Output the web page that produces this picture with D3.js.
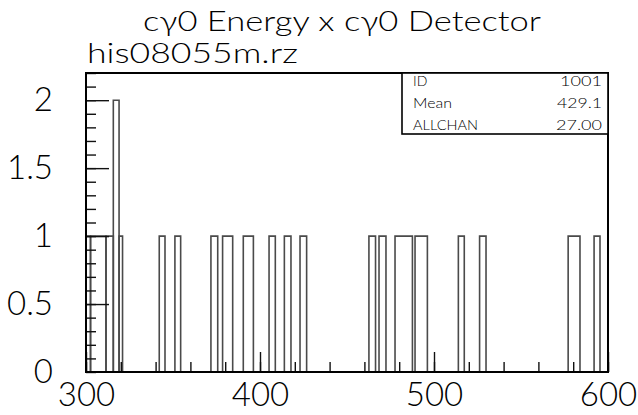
<!DOCTYPE html>
<html>
<head>
<meta charset="utf-8">
<script src="https://cdn.jsdelivr.net/npm/d3@7"></script>
<style>
  html, body { margin: 0; padding: 0; background: #fff; }
  svg { display: block; }
  text { font-family: "Lato", "Liberation Sans", Arial, sans-serif; font-weight: 300; fill: #000; }
</style>
</head>
<body>
<script>
// ---- data ----
const binLow  = [297, 302.6, 311.5, 315.7, 319.0, 342.1, 351.1, 371.8, 378.5, 390.4, 405.2, 414.0, 423.0, 462.6, 468.4, 477.6, 489.1, 514.0, 526.2, 577.1, 592.0];
const binHigh = [302.6, 311.5, 315.7, 319.0, 321.0, 345.4, 354.4, 375.7, 384.3, 396.2, 408.8, 417.8, 426.8, 466.4, 472.4, 487.6, 496.2, 517.4, 529.9, 583.9, 595.4];
const counts  = [1, 1, 1, 2, 1, 1, 1, 1, 1, 1, 1, 1, 1, 1, 1, 1, 1, 1, 1, 1, 1];

const xMajorTicks = [300, 400, 500, 600];
const xMinorTicks = d3.range(300, 601, 20);
const yMajorTicks = [0, 0.5, 1, 1.5, 2];
const yMinorTicks = d3.range(0, 2.21, 0.1);

const titleText = "c\u03B30 Energy x c\u03B30 Detector";
const fileText = "his08055m.rz";
const statLabels = ["ID", "Mean", "ALLCHAN"];
const statValues = ["1001", "429.1", "27.00"];

// ---- layout ----
const W = 638, H = 415;
const L = 86, R = 608, T = 73, B = 372;

const svg = d3.select("body").append("svg").attr("width", W).attr("height", H);

const x = d3.scaleLinear().domain([300, 600]).range([L, R]);
const y = d3.scaleLinear().domain([0, 2.2]).range([B, T]);

svg.append("clipPath").attr("id", "plotclip")
  .append("rect").attr("x", L).attr("y", T).attr("width", R - L).attr("height", B - T);

// histogram bins drawn as open boxes
const bins = counts.map((c, i) => ({ lo: binLow[i], hi: binHigh[i], c }));
svg.append("g").attr("clip-path", "url(#plotclip)")
  .selectAll("path").data(bins).join("path")
  .attr("d", d => {
    const p = d3.path();
    p.moveTo(x(d.lo), y(0));
    p.lineTo(x(d.lo), y(d.c));
    p.lineTo(x(d.hi), y(d.c));
    p.lineTo(x(d.hi), y(0));
    return p.toString();
  })
  .attr("fill", "none")
  .attr("stroke", "#4a4a4a")
  .attr("stroke-width", 1.6);

// y axis ticks (pointing into the plot)
const yMinor = svg.append("g").attr("transform", `translate(${L},0)`)
  .call(d3.axisRight(y).tickValues(yMinorTicks).tickSize(10).tickFormat(""));
const yMajor = svg.append("g").attr("transform", `translate(${L},0)`)
  .call(d3.axisRight(y).tickValues(yMajorTicks.filter(v => v > 0)).tickSize(23).tickFormat(""));
const yLab = svg.append("g").attr("transform", `translate(${L},0)`)
  .call(d3.axisLeft(y).tickValues(yMajorTicks).tickSize(0).tickPadding(33).tickFormat(d3.format("~g")));

// x axis ticks (pointing up into the plot)
const xMinor = svg.append("g").attr("transform", `translate(0,${B})`)
  .call(d3.axisTop(x).tickValues(xMinorTicks).tickSize(10).tickFormat(""));
const xMajor = svg.append("g").attr("transform", `translate(0,${B})`)
  .call(d3.axisTop(x).tickValues(xMajorTicks).tickSize(20).tickFormat(""));
const xLab = svg.append("g").attr("transform", `translate(0,${B})`)
  .call(d3.axisBottom(x).tickValues(xMajorTicks).tickSize(0).tickPadding(11).tickFormat(d3.format("d")));

[yMinor, yMajor, yLab, xMinor, xMajor, xLab].forEach(g => {
  g.select(".domain").remove();
  g.selectAll(".tick line").attr("stroke", "#111").attr("stroke-width", 1.4);
});
[yLab, xLab].forEach(g => {
  g.selectAll("text").attr("font-family", "Lato, Liberation Sans, Arial, sans-serif")
    .attr("font-weight", 300).attr("font-size", 33).attr("fill", "#000");
});

// frame
svg.append("rect").attr("x", L).attr("y", T).attr("width", R - L).attr("height", B - T)
  .attr("fill", "none").attr("stroke", "#000").attr("stroke-width", 2);

// statistics box
const bx0 = 402, bx1 = R, by0 = T, by1 = 134;
svg.append("rect").attr("x", bx0).attr("y", by0).attr("width", bx1 - bx0).attr("height", by1 - by0)
  .attr("fill", "#fff").attr("stroke", "#000").attr("stroke-width", 1.6);
const rowBase = [86, 108, 130];
const labelLen = [null, 39, 65];
const valueLen = [42, 45, 46];
statLabels.forEach((s, i) => {
  const t = svg.append("text").attr("x", 413).attr("y", rowBase[i]).attr("font-size", 14)
    .attr("font-weight", 400).text(s);
  if (labelLen[i]) t.attr("textLength", labelLen[i]).attr("lengthAdjust", "spacingAndGlyphs");
  svg.append("text").attr("x", 602 - valueLen[i]).attr("y", rowBase[i]).attr("font-size", 14)
    .attr("font-weight", 400)
    .attr("textLength", valueLen[i]).attr("lengthAdjust", "spacingAndGlyphs").text(statValues[i]);
});

// titles
svg.append("text").attr("x", 143).attr("y", 31).attr("font-size", 27)
  .attr("textLength", 398).attr("lengthAdjust", "spacingAndGlyphs").text(titleText);
svg.append("text").attr("x", 87).attr("y", 63).attr("font-size", 27)
  .attr("textLength", 211).attr("lengthAdjust", "spacingAndGlyphs").text(fileText);
</script>
</body>
</html>
